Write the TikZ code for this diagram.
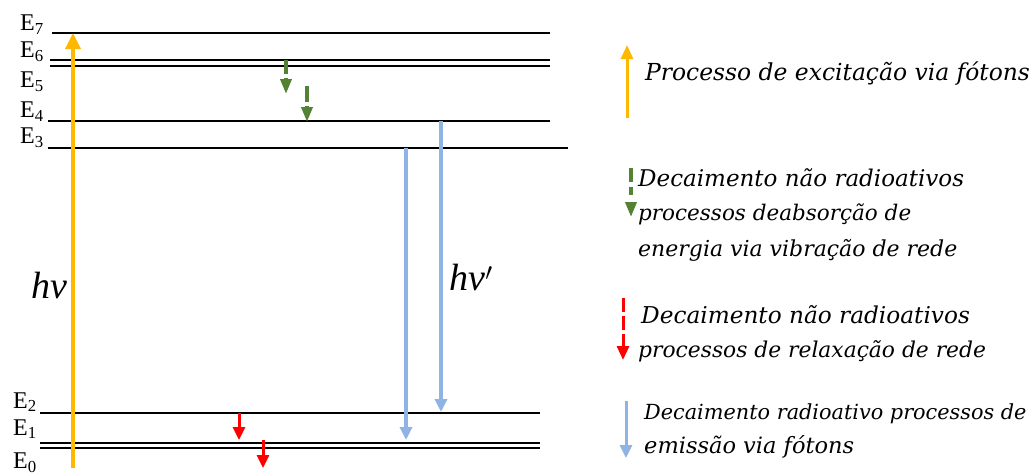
\documentclass[tikz,border=0pt]{standalone}
\usepackage{fontspec}
\setmainfont{Liberation Serif}
\newfontfamily\legfont{DejaVu Serif}
\usetikzlibrary{arrows.meta}
\definecolor{excite}{HTML}{FFB800}
\definecolor{emit}{HTML}{8FB3E3}
\definecolor{vib}{HTML}{548235}
\definecolor{relax}{HTML}{FF0000}
\newcommand{\lsz}[1]{\fontsize{#1}{#1}\selectfont}
\tikzset{
  level/.style={line width=2pt, black},
  elabel/.style={anchor=west, inner sep=0pt, font=\fontsize{24}{24}\selectfont},
  hvlabel/.style={inner sep=0pt, font=\fontsize{38}{38}\selectfont\itshape},
  legtext/.style={anchor=west, inner sep=0pt, font=\legfont\itshape},
  excarrow/.style={excite, line width=3.5pt, -{Triangle[length=16pt,width=15pt]}},
  emiarrow/.style={emit, line width=3.5pt, -{Triangle[length=13pt,width=12pt]}},
  vibarrow/.style={vib, line width=3.5pt, dash pattern=on 14pt off 4pt, -{Triangle[length=15pt,width=11pt]}},
  relarrow/.style={relax, line width=3pt, -{Triangle[length=13pt,width=12pt]}},
  relarrowd/.style={relax, line width=3pt, dash pattern=on 14pt off 4pt, -{Triangle[length=14pt,width=12pt]}},
}
\begin{document}
\begin{tikzpicture}[x=1pt,y=-1pt]
\useasboundingbox (0,0) rectangle (1033,475);
% energy levels
\draw[level] (52,33) coordinate (e7a) -- (550,33) coordinate (e7b);
\draw[level, line width=1.5pt] (50,60) coordinate (e6a) -- (550,60) coordinate (e6b);
\draw[level] (50,66) coordinate (e6c) -- (550,66) coordinate (e6d);
\draw[level] (48,121) coordinate (e4a) -- (550,121) coordinate (e4b);
\draw[level] (48,148) coordinate (e3a) -- (568,148) coordinate (e3b);
\draw[level] (40,413) coordinate (e2a) -- (540,413) coordinate (e2b);
\draw[level] (40,443) coordinate (e1a) -- (540,443) coordinate (e1b);
\draw[level] (40,448) coordinate (e1c) -- (540,448) coordinate (e1d);
% level labels
\node[elabel] (l7) at (20,25) {E\textsubscript{7}};
\node[elabel] (l6) at (20,52) {E\textsubscript{6}};
\node[elabel] (l5) at (20,82) {E\textsubscript{5}};
\node[elabel] (l4) at (20,112) {E\textsubscript{4}};
\node[elabel] (l3) at (20,138) {E\textsubscript{3}};
\node[elabel] (l2) at (13,402) {E\textsubscript{2}};
\node[elabel] (l1) at (13,429) {E\textsubscript{1}};
\node[elabel] (l0) at (13,463) {E\textsubscript{0}};
% excitation
\coordinate (x0) at (73,468);
\coordinate (x1) at (73,33);
\draw[excarrow] (x0) -- (x1);
\node[hvlabel] (hv) at (49,285) {hv};
% non-radiative (vibration)
\coordinate (g1a) at (286,60); \coordinate (g1b) at (286,94);
\coordinate (g2a) at (307,86); \coordinate (g2b) at (307,122);
\draw[vibarrow] (g1a) -- (g1b);
\draw[vibarrow, dash pattern=on 16pt off 4pt] (g2a) -- (g2b);
% radiative
\coordinate (b1a) at (406,148); \coordinate (b1b) at (406,440);
\coordinate (b2a) at (441,121); \coordinate (b2b) at (441,412);
\draw[emiarrow] (b1a) -- (b1b);
\draw[emiarrow] (b2a) -- (b2b);
\node[hvlabel] (hvp) at (471,277) {hv$'$};
% non-radiative (relaxation)
\coordinate (r1a) at (239,413); \coordinate (r1b) at (239,440);
\coordinate (r2a) at (263,440); \coordinate (r2b) at (263,468);
\draw[relarrow] (r1a) -- (r1b);
\draw[relarrow] (r2a) -- (r2b);
% legend
\coordinate (k1a) at (627,118); \coordinate (k1b) at (627,45);
\draw[excarrow, line width=3pt, -{Triangle[length=14pt,width=12pt]}] (k1a) -- (k1b);
\node[legtext, font=\legfont\itshape\lsz{23.4}] (t1) at (645,74) {Processo de excitação via fótons};
\coordinate (k2a) at (631,168); \coordinate (k2b) at (631,217);
\draw[vibarrow, dash pattern=on 14pt off 5pt on 8pt off 50pt] (k2a) -- (k2b);
\node[legtext, font=\legfont\itshape\lsz{23}] (t2a) at (638,178) {Decaimento não radioativos};
\node[legtext, font=\legfont\itshape\lsz{21.5}] (t2b) at (638,214) {processos deabsorção de};
\node[legtext, font=\legfont\itshape\lsz{22}] (t2c) at (638,250) {energia via vibração de rede};
\coordinate (k3a) at (623,298); \coordinate (k3b) at (623,360);
\draw[relarrowd] (k3a) -- (k3b);
\node[legtext, font=\legfont\itshape\lsz{23.2}] (t3a) at (641,315) {Decaimento não radioativos};
\node[legtext, font=\legfont\itshape\lsz{21.8}] (t3b) at (638,351) {processos de relaxação de rede};
\coordinate (k4a) at (626,401); \coordinate (k4b) at (626,458);
\draw[emiarrow, line width=3pt] (k4a) -- (k4b);
\node[legtext, font=\legfont\itshape\lsz{20.8}] (t4a) at (644,414) {Decaimento radioativo processos de};
\node[legtext, font=\legfont\itshape\lsz{22.5}] (t4b) at (644,447) {emissão via fótons};
\end{tikzpicture}
\end{document}
